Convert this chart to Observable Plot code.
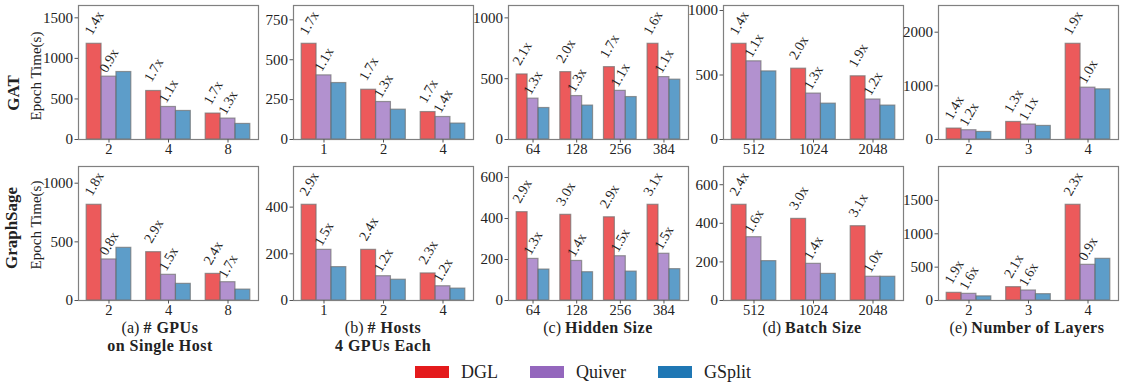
<!DOCTYPE html>
<html><head><meta charset="utf-8">
<script src="https://cdn.jsdelivr.net/npm/d3@7"></script>
<script src="https://cdn.jsdelivr.net/npm/@observablehq/plot@0.6"></script>
<style>
body{margin:0;background:#fff;}
#root{position:relative;width:1121px;height:390px;overflow:hidden;font-family:"Liberation Serif",serif;color:#222;}
.panel{position:absolute;}
.panel text{font-family:"Liberation Serif",serif;}
.ylab{position:absolute;transform:translate(-50%,-50%) rotate(-90deg);white-space:nowrap;}
.cap{position:absolute;transform:translateX(-50%);text-align:center;white-space:nowrap;font-size:16px;line-height:17px;height:17px;}
.cap b{font-weight:bold;letter-spacing:0.5px;}
.legend{position:absolute;top:362px;left:415px;display:flex;font-size:18px;line-height:20px;}
.li{display:flex;align-items:center;margin-right:32px;}
.sw{width:34px;height:12px;margin-right:12px;}
</style></head>
<body><div id="root"></div>
<script>
const seriesNames = ["DGL", "Quiver", "GSplit"];
const seriesColors = ["#e41a1c", "#9467bd", "#1f77b4"];

const gpuCats = ["2", "4", "8"];
const hostCats = ["1", "2", "4"];
const hiddenCats = ["64", "128", "256", "384"];
const batchCats = ["512", "1024", "2048"];
const layerCats = ["2", "3", "4"];

// GAT
const gatGpuDGL = [1180, 598, 320], gatGpuQuiver = [775, 401, 258], gatGpuGSplit = [832, 352, 192];
const gatGpuLblDGL = ["1.4x", "1.7x", "1.7x"], gatGpuLblQuiver = ["0.9x", "1.1x", "1.3x"];
const gatHostDGL = [600, 312, 172], gatHostQuiver = [402, 235, 141], gatHostGSplit = [354, 187, 100];
const gatHostLblDGL = ["1.7x", "1.7x", "1.7x"], gatHostLblQuiver = ["1.1x", "1.3x", "1.4x"];
const gatHiddenDGL = [535, 554, 595, 787], gatHiddenQuiver = [336, 357, 400, 513], gatHiddenGSplit = [259, 279, 349, 492];
const gatHiddenLblDGL = ["2.1x", "2.0x", "1.7x", "1.6x"], gatHiddenLblQuiver = ["1.3x", "1.3x", "1.1x", "1.1x"];
const gatBatchDGL = [742, 549, 490], gatBatchQuiver = [606, 356, 310], gatBatchGSplit = [528, 278, 263];
const gatBatchLblDGL = ["1.4x", "2.0x", "1.9x"], gatBatchLblQuiver = ["1.1x", "1.3x", "1.2x"];
const gatLayerDGL = [204, 327, 1784], gatLayerQuiver = [173, 279, 966], gatLayerGSplit = [141, 253, 935];
const gatLayerLblDGL = ["1.4x", "1.3x", "1.9x"], gatLayerLblQuiver = ["1.2x", "1.1x", "1.0x"];

// GraphSage
const sageGpuDGL = [816, 412, 227], sageGpuQuiver = [350, 219, 156], sageGpuGSplit = [449, 142, 93];
const sageGpuLblDGL = ["1.8x", "2.9x", "2.4x"], sageGpuLblQuiver = ["0.8x", "1.5x", "1.7x"];
const sageHostDGL = [410, 217, 116], sageHostQuiver = [217, 104, 61], sageHostGSplit = [143, 89, 51];
const sageHostLblDGL = ["2.9x", "2.4x", "2.3x"], sageHostLblQuiver = ["1.5x", "1.2x", "1.2x"];
const sageHiddenDGL = [431, 418, 406, 467], sageHiddenQuiver = [203, 193, 216, 228], sageHiddenGSplit = [151, 138, 141, 153];
const sageHiddenLblDGL = ["2.9x", "3.0x", "2.9x", "3.1x"], sageHiddenLblQuiver = ["1.3x", "1.4x", "1.5x", "1.5x"];
const sageBatchDGL = [496, 423, 385], sageBatchQuiver = [328, 190, 123], sageBatchGSplit = [204, 138, 123];
const sageBatchLblDGL = ["2.4x", "3.0x", "3.1x"], sageBatchLblQuiver = ["1.6x", "1.4x", "1.0x"];
const sageLayerDGL = [115, 200, 1435], sageLayerQuiver = [100, 150, 535], sageLayerGSplit = [62, 95, 625];
const sageLayerLblDGL = ["1.9x", "2.1x", "2.3x"], sageLayerLblQuiver = ["1.6x", "1.6x", "0.9x"];

// y tick values
const gatTicks = [[0, 500, 1000, 1500], [0, 250, 500, 750], [0, 500, 1000], [0, 500, 1000], [0, 1000, 2000]];
const sageTicks = [[0, 500, 1000], [0, 200, 400], [0, 200, 400, 600], [0, 200, 400, 600], [0, 500, 1000, 1500]];

// caption lines
const captionLine1 = ["(a) <b># GPUs</b>", "(b) <b># Hosts</b>", "(c) <b>Hidden Size</b>", "(d) <b>Batch Size</b>", "(e) <b>Number of Layers</b>"];
const captionLine2 = ["<b>on Single Host</b>", "<b>4 GPUs Each</b>", "", "", ""];

const rowSpecs = [
  {top: 5, panels: [
    [gpuCats, gatGpuDGL, gatGpuQuiver, gatGpuGSplit, gatGpuLblDGL, gatGpuLblQuiver],
    [hostCats, gatHostDGL, gatHostQuiver, gatHostGSplit, gatHostLblDGL, gatHostLblQuiver],
    [hiddenCats, gatHiddenDGL, gatHiddenQuiver, gatHiddenGSplit, gatHiddenLblDGL, gatHiddenLblQuiver],
    [batchCats, gatBatchDGL, gatBatchQuiver, gatBatchGSplit, gatBatchLblDGL, gatBatchLblQuiver],
    [layerCats, gatLayerDGL, gatLayerQuiver, gatLayerGSplit, gatLayerLblDGL, gatLayerLblQuiver]], ticks: gatTicks},
  {top: 166, panels: [
    [gpuCats, sageGpuDGL, sageGpuQuiver, sageGpuGSplit, sageGpuLblDGL, sageGpuLblQuiver],
    [hostCats, sageHostDGL, sageHostQuiver, sageHostGSplit, sageHostLblDGL, sageHostLblQuiver],
    [hiddenCats, sageHiddenDGL, sageHiddenQuiver, sageHiddenGSplit, sageHiddenLblDGL, sageHiddenLblQuiver],
    [batchCats, sageBatchDGL, sageBatchQuiver, sageBatchGSplit, sageBatchLblDGL, sageBatchLblQuiver],
    [layerCats, sageLayerDGL, sageLayerQuiver, sageLayerGSplit, sageLayerLblDGL, sageLayerLblQuiver]], ticks: sageTicks}
];

const panelLefts = [78, 293, 508, 723, 938];
const PW = 180, PH = 134, ML = 46, MR = 2, MT = 2, MB = 20;
const FF = "Liberation Serif";
const root = document.getElementById("root");

rowSpecs.forEach(row => {
  row.panels.forEach((p, pi) => {
    const [cats, dgl, quiver, gsplit, lblD, lblQ] = p;
    const n = cats.length;
    const vals = [dgl, quiver, gsplit];
    const bars = [];
    vals.forEach((arr, s) => arr.forEach((v, g) => bars.push({g, s, name: seriesNames[s], v})));
    const labels = [];
    [lblD, lblQ].forEach((arr, s) => arr.forEach((t, g) => labels.push({g, s, t, v: vals[s][g]})));
    const bw = 0.25;
    const span = (n - 1) + 2 * 1.5 * bw;
    const lo = -1.5 * bw - 0.05 * span, hi = (n - 1) + 1.5 * bw + 0.05 * span;
    const ymax = 1.4 * d3.max([...dgl, ...quiver, ...gsplit]);
    const chart = Plot.plot({
      width: PW + ML + MR, height: PH + MT + MB,
      marginLeft: ML, marginRight: MR, marginTop: MT, marginBottom: MB,
      style: {fontFamily: FF, fontSize: "14px", background: "transparent", color: "#222", overflow: "visible"},
      x: {domain: [lo, hi], axis: null},
      y: {domain: [0, ymax], axis: null},
      color: {domain: seriesNames, range: seriesColors},
      marks: [
        Plot.rect(bars, {
          x1: d => d.g - 1.5 * bw + d.s * bw, x2: d => d.g - 0.5 * bw + d.s * bw,
          y1: 0, y2: "v", fill: "name", fillOpacity: 0.72,
          stroke: "#707070", strokeOpacity: 0.7, strokeWidth: 1.2
        }),
        Plot.text(labels.filter(d => d.s === 0), {
          x: d => d.g - bw + d.s * bw, y: "v", text: "t", rotate: -60,
          textAnchor: "middle", dy: -21, fontSize: 14, fontFamily: FF, fill: "#222"
        }),
        Plot.text(labels.filter(d => d.s === 1), {
          x: d => d.g - bw + d.s * bw, y: "v", text: "t", rotate: -60,
          textAnchor: "middle", dy: -16, fontSize: 14, fontFamily: FF, fill: "#222"
        }),
        Plot.frame({stroke: "#808080", strokeWidth: 1.2}),
        Plot.axisY({ticks: row.ticks[pi], tickFormat: d => String(d), tickSize: 3.5, tickPadding: 2, stroke: "#555", fill: "#222", fontSize: 15, fontFamily: FF, label: null}),
        Plot.axisX({ticks: d3.range(n), tickFormat: i => cats[i], tickSize: 3.5, tickPadding: 1, stroke: "#555", fill: "#222", fontSize: 14.5, fontFamily: FF, label: null})
      ]
    });
    chart.classList.add("panel");
    chart.style.left = (panelLefts[pi] - ML) + "px";
    chart.style.top = (row.top - MT) + "px";
    root.appendChild(chart);
  });
});

function addDiv(cls, html, x, y, extra) {
  const d = document.createElement("div");
  d.className = cls; d.innerHTML = html;
  d.style.left = x + "px"; d.style.top = y + "px";
  if (extra) Object.assign(d.style, extra);
  root.appendChild(d);
}
addDiv("ylab", "<b>GAT</b>", 14, 93, {fontSize: "17px"});
addDiv("ylab", "Epoch Time(s)", 36, 76, {fontSize: "15px"});
addDiv("ylab", "<b>GraphSage</b>", 12, 228, {fontSize: "17px"});
addDiv("ylab", "Epoch Time(s)", 36, 225, {fontSize: "15px"});

const capCenters = [160, 383, 598, 812, 1027];
captionLine1.forEach((c, i) => addDiv("cap", c, capCenters[i], 319));
captionLine2.forEach((c, i) => { if (c) addDiv("cap", c, capCenters[i], 337); });

const leg = document.createElement("div");
leg.className = "legend";
seriesNames.forEach((s, i) => {
  const it = document.createElement("div");
  it.className = "li";
  it.innerHTML = `<div class="sw" style="background:${seriesColors[i]}"></div><span>${s}</span>`;
  leg.appendChild(it);
});
root.appendChild(leg);
</script></body></html>
